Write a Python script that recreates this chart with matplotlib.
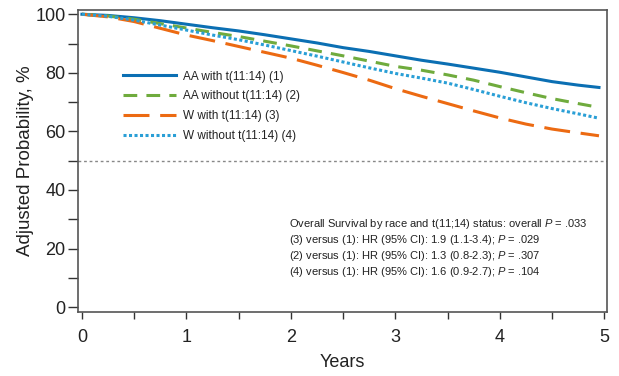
import numpy as np
import matplotlib
matplotlib.use("Agg")
import matplotlib.pyplot as plt

plt.rcParams['font.family'] = ['Liberation Sans', 'DejaVu Sans']
plt.rcParams['mathtext.fontset'] = 'custom'
plt.rcParams['mathtext.rm'] = 'Liberation Sans'
plt.rcParams['mathtext.it'] = 'Liberation Sans:italic'

years = [0, 0.25, 0.5, 0.75, 1, 1.25, 1.5, 1.75, 2, 2.25, 2.5, 2.75,
         3, 3.25, 3.5, 3.75, 4, 4.25, 4.5, 4.75, 4.95]

aa_with = [100, 99.6, 98.8, 97.8, 96.6, 95.4, 94.3, 93.0, 91.6, 90.2, 88.6,
           87.3, 85.8, 84.3, 83.0, 81.6, 80.2, 78.6, 77.0, 75.8, 75.0]
aa_without = [100, 99.4, 98.3, 96.8, 95.3, 93.8, 92.4, 90.8, 89.2, 87.5, 85.8,
              84.0, 82.2, 80.9, 79.3, 77.5, 75.3, 73.2, 71.2, 69.5, 68.2]
w_with = [100, 99.1, 97.5, 95.2, 92.9, 91.0, 89.0, 87.0, 85.0, 82.6, 80.1,
          77.5, 74.6, 72.0, 69.5, 67.0, 64.6, 62.5, 60.8, 59.5, 58.5]
w_without = [100, 99.3, 98.0, 96.3, 94.6, 92.9, 91.3, 89.5, 87.6, 85.7, 83.7,
             81.7, 79.8, 78.2, 76.5, 74.3, 72.0, 69.8, 67.8, 66.0, 64.5]

labels = ['AA with t(11:14) (1)', 'AA without t(11:14) (2)',
          'W with t(11:14) (3)', 'W without t(11:14) (4)']

notes = [
    'Overall Survival by race and t(11;14) status: overall $P$ = .033',
    '(3) versus (1): HR (95% CI): 1.9 (1.1-3.4); $P$ = .029',
    '(2) versus (1): HR (95% CI): 1.3 (0.8-2.3); $P$ = .307',
    '(4) versus (1): HR (95% CI): 1.6 (0.9-2.7); $P$ = .104',
]

fig = plt.figure(figsize=(6.19, 3.76), dpi=100)
ax = fig.add_axes([0.126, 0.170, 0.855, 0.803])

ax.plot(years, aa_with, color='#0b6fb3', lw=2.2, label=labels[0])
ax.plot(years, aa_without, color='#6fab3d', lw=2.2, ls=(0, (4.5, 3)), label=labels[1])
ax.plot(years, w_with, color='#ec6a12', lw=2.2, ls=(0, (8.5, 3.5)), label=labels[2])
ax.plot(years, w_without, color='#2a9fd6', lw=2.2, ls=(0, (1, 0.8)), label=labels[3])

ax.axhline(50, color='#888888', lw=1, ls=(0, (2, 2)))

ax.set_xlim(-0.038, 5.029)
ax.set_ylim(-1.7, 101.4)
ax.set_xticks(range(6))
ax.set_xticks(np.arange(0.5, 5, 1), minor=True)
ax.set_yticks(range(0, 101, 20))
ax.set_yticks(range(10, 100, 20), minor=True)

for s in ax.spines.values():
    s.set_color('#555555')
    s.set_linewidth(1.2)
ax.tick_params(axis='both', which='both', color='#333333', width=1, labelsize=13, labelcolor='#222222')
ax.tick_params(axis='y', which='both', length=7, pad=2)
ax.tick_params(axis='x', which='both', length=5, pad=7)

ax.set_xlabel('Years', fontsize=13, color='#222222', labelpad=6)
ax.set_ylabel('Adjusted Probability, %', fontsize=13.5, color='#222222', labelpad=1)

leg = ax.legend(loc='upper left', bbox_to_anchor=(0.065, 0.835), frameon=False,
                fontsize=8.5, handlelength=4.5, handletextpad=0.55, labelspacing=0.66)
for t in leg.get_texts():
    t.set_color('#222222')

ax.text(0.398, 0.315, '\n'.join(notes), transform=ax.transAxes, fontsize=8,
        color='#222222', va='top', ha='left', linespacing=1.2)

fig.savefig('out.png', dpi=100)
